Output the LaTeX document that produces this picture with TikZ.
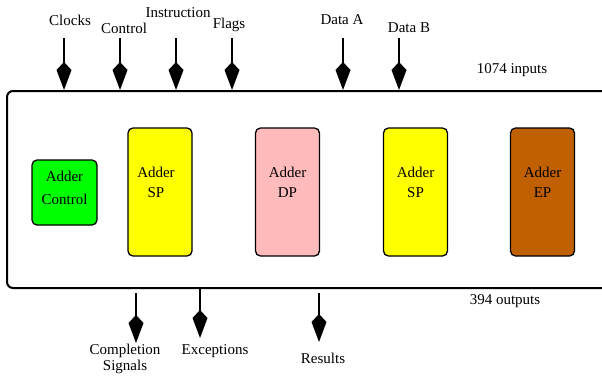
\documentclass[tikz,border=0pt]{standalone}
\usepackage{fontspec}
\setmainfont{Liberation Serif}
\usetikzlibrary{positioning, arrows.meta}
\definecolor{addgreen}{HTML}{00FF00}
\definecolor{addyellow}{HTML}{FFFF00}
\definecolor{addpink}{HTML}{FFBBBB}
\definecolor{addbrown}{HTML}{C06000}

\begin{document}
\begin{tikzpicture}[x=1pt, y=-1pt, font=\fontsize{15}{20}\selectfont,
  sig/.style={-{Kite[length=28pt, width=15pt, inset=8pt]}, line width=2pt},
  unit/.style={draw, line width=1.3pt, rounded corners=5pt, minimum width=64pt, minimum height=128pt, inner sep=0pt},
  txt/.style={align=center, inner sep=0pt}]
\useasboundingbox (0,0) rectangle (602,375);
\clip (0,0) rectangle (602,375);
% adder block
\node[draw, line width=2pt, rounded corners=6pt, minimum width=620pt, minimum height=197pt, inner sep=0pt] (chip) at (317,189.5) {};
\node[unit, fill=addgreen, minimum width=65pt, minimum height=65pt] (ctl) at (64.5,192.5) {};
\node[unit, fill=addyellow] (spa) at (160,192) {};
\node[unit, fill=addpink] (dp) at (287.5,192) {};
\node[unit, fill=addyellow] (spb) at (415.5,192) {};
\node[unit, fill=addbrown] (ep) at (542.5,192) {};
\node[txt, font=\fontsize{15}{23}\selectfont] (ctltxt) at ([yshift=5pt]ctl.center) {Adder\\Control};
\node[txt] (spatxt) at ([xshift=-4pt, yshift=10pt]spa.center) {Adder\\SP};
\node[txt] (dptxt) at ([yshift=10pt]dp.center) {Adder\\DP};
\node[txt] (spbtxt) at ([yshift=10pt]spb.center) {Adder\\SP};
\node[txt] (eptxt) at ([yshift=10pt]ep.center) {Adder\\EP};
% inputs
\node (clk) at (70,20) {Clocks};
\node (ctrl) at (124,28) {Control};
\node (ins) at (178,13) {Instruction};
\node (flg) at (229,25) {Flags};
\node (dta) at (342,20) {Data A};
\node (dtb) at (409,28) {Data B};
\node (nin) at (512,70) {1074 inputs};
\coordinate (clkin) at (64,38);
\coordinate (ctrlin) at (120,38);
\coordinate (insin) at (176,38);
\coordinate (flgin) at (232,38);
\coordinate (dtain) at (343,38);
\coordinate (dtbin) at (399,38);
\foreach \s in {clkin, ctrlin, insin, flgin, dtain, dtbin}
  \draw[sig] (\s) -- (\s |- chip.north);
% outputs
\node (nout) at (505,301) {394 outputs};
\node[txt, font=\fontsize{15}{16}\selectfont] (cmp) at (125,359) {Completion\\Signals};
\node (exc) at (215,351) {Exceptions};
\node (res) at (323,358) {Results};
\coordinate (cmpout) at (136,293);
\coordinate (cmpend) at (136,343);
\coordinate (excend) at (200,338);
\coordinate (resout) at (319,293);
\coordinate (resend) at (319,342);
\draw[sig] (cmpout) -- (cmpend);
\draw[sig] (excend |- chip.south) -- (excend);
\draw[sig] (resout) -- (resend);
\end{tikzpicture}
\end{document}
